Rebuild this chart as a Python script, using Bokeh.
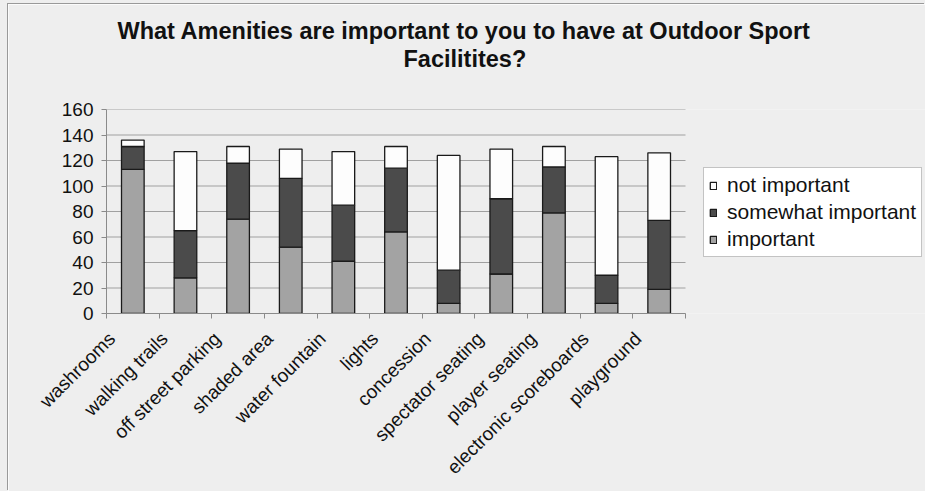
from bokeh.plotting import figure
from bokeh.models import (Range1d, FixedTicker, Legend, LegendItem, Title,
                          ColumnDataSource)
from bokeh.embed import file_html
from bokeh.resources import INLINE

categories = ["washrooms", "walking trails", "off street parking", "shaded area",
              "water fountain", "lights", "concession", "spectator seating",
              "player seating", "electronic scoreboards", "playground"]
important = [113, 28, 74, 52, 41, 64, 8, 31, 79, 8, 19]
somewhat_important = [18, 37, 44, 54, 44, 50, 26, 59, 36, 22, 54]
not_important = [5, 62, 13, 23, 42, 17, 90, 39, 16, 93, 53]
y_ticks = [0, 20, 40, 60, 80, 100, 120, 140, 160]

series = ["important", "somewhat important", "not important"]
colors = ["#a3a3a3", "#4b4b4b", "#fdfdfd"]

n = len(categories)
xpos = [i + 0.5 for i in range(n)]
label_pos = [round(i + 0.1, 3) for i in range(n)]   # rotated labels end left of bar
source = ColumnDataSource(dict(x=xpos, important=important,
                               somewhat=somewhat_important,
                               notimp=not_important))

BG = "#eeeeee"
FONT = "Liberation Sans"

W, H = 917, 487
LEFT, TOP, BOTTOM = 98, 105, 178
PLOT_W = 579                      # width of the bar area in px
FRAME_W = W - LEFT                # frame runs to the right edge (legend lives there)
x_end = n * FRAME_W / PLOT_W

p = figure(width=W, height=H, output_backend="svg", toolbar_location=None,
           x_range=Range1d(0, x_end), y_range=Range1d(0, 160),
           min_border_left=LEFT, min_border_right=0, min_border_top=TOP,
           min_border_bottom=BOTTOM)
p.background_fill_color = BG
p.border_fill_color = BG
p.outline_line_color = None
p.title.visible = False
p.styles = {"position": "relative", "left": "8px", "top": "4px",
            "box-shadow": "-1px -1px 0 0 #999999, 0 0 0 40px #eeeeee"}

# horizontal grid lines only across the bar area
p.segment(x0=[0] * len(y_ticks), x1=[n] * len(y_ticks), y0=y_ticks, y1=y_ticks,
          line_color="#a0a0a0", line_width=1)

rs = p.vbar_stack(["important", "somewhat", "notimp"], x="x", width=0.43,
                  source=source, fill_color=colors, line_color="#1a1a1a",
                  line_width=1.3)

# x axis: tick marks at category boundaries, labels rotated
p.xaxis.bounds = (0, n)
p.xaxis.ticker = FixedTicker(ticks=label_pos, minor_ticks=list(range(n + 1)))
p.xaxis.major_label_overrides = {x: c for x, c in zip(label_pos, categories)}
p.xaxis.major_tick_line_color = None
p.xaxis.minor_tick_line_color = "#8a8a8a"
p.xaxis.minor_tick_out = 5
p.xaxis.minor_tick_in = 0
p.xaxis.major_label_orientation = 0.785398
p.xaxis.major_label_text_font = FONT
p.xaxis.major_label_text_font_size = "19px"
p.xaxis.major_label_text_color = "#111111"
p.xaxis.major_label_standoff = 16
p.xaxis.axis_line_color = "#8a8a8a"

p.yaxis.ticker = FixedTicker(ticks=y_ticks)
p.yaxis.minor_tick_line_color = None
p.yaxis.major_tick_out = 5
p.yaxis.major_tick_in = 0
p.yaxis.major_tick_line_color = "#8a8a8a"
p.yaxis.axis_line_color = "#8a8a8a"
p.yaxis.major_label_text_font = FONT
p.yaxis.major_label_text_font_size = "19px"
p.yaxis.major_label_text_color = "#111111"
p.yaxis.major_label_standoff = 8

p.xgrid.grid_line_color = None
p.ygrid.grid_line_color = None

# titles (first added is closest to the frame)
spacer = Title(text=" ", text_font_size="2px", standoff=34)
t2 = Title(text="Facilitites?", align="left", offset=297, standoff=0,
           text_font=FONT, text_font_size="23.5px", text_font_style="bold",
           text_color="#111111")
t1 = Title(text="What Amenities are important to you to have at Outdoor Sport",
           align="left", offset=11, standoff=0,
           text_font=FONT, text_font_size="23.5px", text_font_style="bold",
           text_color="#111111")
p.add_layout(spacer, "above")
p.add_layout(t2, "above")
p.add_layout(t1, "above")

items = [LegendItem(label=series[i], renderers=[rs[i]]) for i in [2, 1, 0]]
legend = Legend(items=items, location=(597, 56), orientation="vertical",
                background_fill_color="#ffffff", background_fill_alpha=1,
                border_line_color="#888888", border_line_width=1,
                label_text_font=FONT, label_text_font_size="21px",
                label_text_color="#111111", glyph_width=8, glyph_height=9,
                label_standoff=10, padding=5, spacing=3, margin=0)
p.add_layout(legend, "center")

open("out.html", "w").write(file_html(p, INLINE))
